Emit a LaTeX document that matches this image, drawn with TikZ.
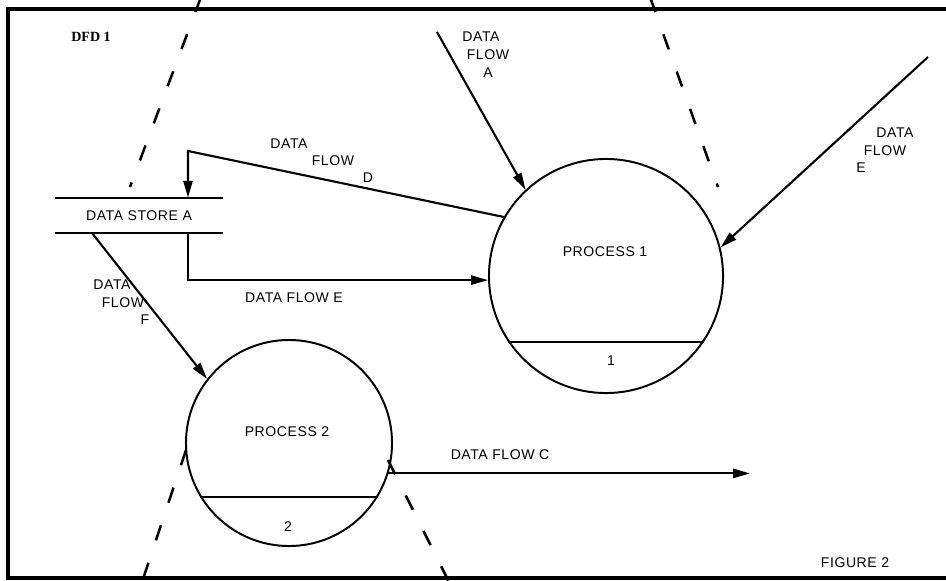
\documentclass[tikz,border=0pt]{standalone}
\usepackage{fontspec}
\setmainfont{Liberation Sans}[LetterSpace=4]
\newfontfamily\dfdfont{Liberation Serif}
\usepackage{tikz}
\usetikzlibrary{arrows.meta}

\begin{document}
\begin{tikzpicture}[x=0.025cm, y=-0.025cm,
        flow/.style={line width=1.5pt, -{Triangle[length=12pt, width=6.5pt]}},
        bound/.style={line width=1.8pt, dash pattern=on 0.4cm off 0.59cm},
        proc/.style={circle, draw, line width=1.4pt, inner sep=0pt},
        lbl/.style={font=\fontsize{10}{10}\selectfont, inner sep=0pt}]
        \useasboundingbox (0,0) rectangle (946,580);
        \clip (0,0) rectangle (946,580);
        \draw[line width=2.2pt] (947,9) -- (8,9) -- (8,578) -- (947,578);

        \draw[bound] (201,-3) -- (130,187);
        \draw[bound] (650,-3) -- (718,187);
        \draw[bound] (186,450) -- (142,582);
        \draw[bound] (388,460) -- (449,582);

        \node[proc, minimum size=5.85cm] (p1) at (606,276) {};
        \node[proc, minimum size=5.15cm] (p2) at (289,443) {};
        \draw[line width=1.4pt] (p1.214.3) -- (p1.-34.3);
        \draw[line width=1.4pt] (p2.211.6) -- (p2.-31.6);
        \node[lbl] (p1name) at (605,252) {PROCESS 1};
        \node[lbl] (p1num) at (611,361) {1};
        \node[lbl] (p2name) at (287,432) {PROCESS 2};
        \node[lbl] (p2num) at (288,527) {2};

        \node[lbl, minimum width=4.2cm, minimum height=0.875cm] (ds) at (139,215.5) {DATA STORE A};
        \draw[line width=1.5pt] (ds.north west) -- (ds.north east);
        \draw[line width=1.5pt] (ds.south west) -- (ds.south east);

        \coordinate (dA) at (437,32);
        \coordinate (dE) at (928,57);
        \coordinate (dD) at (188,151);
        \coordinate (dF) at (92,233);
        \coordinate (dC) at (750,473);

        \draw[flow] (dA) -- (p1.133);
        \draw[flow] (dE) -- (p1.14);
        \draw[flow] (p1.150) -- (dD) -- (dD |- ds.north);
        \draw[flow] (dD |- ds.south) |- (p1.182);
        \draw[flow] (dF) -- (p2.142);
        \draw[flow] (p2.-17) -- (p2.-17 -| dC);

        \node[lbl] (la1) at (481,37) {DATA};
        \node[lbl] (la2) at (488,55) {FLOW};
        \node[lbl] (la3) at (488,73) {A};
        \node[lbl] (ld1) at (289,144) {DATA};
        \node[lbl] (ld2) at (333,161) {FLOW};
        \node[lbl] (ld3) at (368,178) {D};
        \node[lbl] (le1) at (895,133) {DATA};
        \node[lbl] (le2) at (885,151) {FLOW};
        \node[lbl] (le3) at (861,168) {E};
        \node[lbl] (lf1) at (112,285) {DATA};
        \node[lbl] (lf2) at (123,303) {FLOW};
        \node[lbl] (lf3) at (145,320) {F};
        \node[lbl] (lel) at (294,298) {DATA FLOW E};
        \node[lbl] (lc) at (500,455) {DATA FLOW C};

        \node[lbl, font=\dfdfont\bfseries\fontsize{10}{10}\selectfont] (dfd) at (91,37) {DFD 1};
        \node[lbl] (fig) at (855,563) {FIGURE 2};
      \end{tikzpicture}
\end{document}
